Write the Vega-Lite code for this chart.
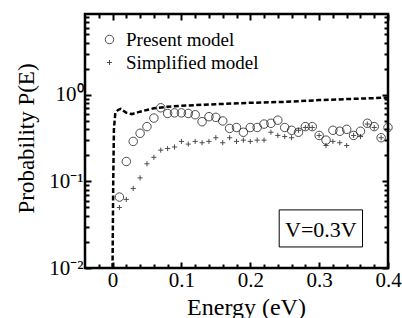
{
  "$schema": "https://vega.github.io/schema/vega-lite/v6.json",
  "width": 303,
  "height": 254,
  "autosize": {"type": "none"},
  "padding": {"left": 85, "top": 14, "right": 14, "bottom": 50},
  "background": "white",
  "config": {
    "view": {"stroke": "black", "strokeWidth": 2.5},
    "font": "Liberation Serif",
    "axis": {
      "domain": false, "ticks": true, "tickColor": "black", "tickWidth": 2,
      "labelColor": "black", "labelFont": "Liberation Serif", "labelFontSize": 21,
      "titleFont": "Liberation Serif", "titleColor": "black", "titleFontWeight": "normal",
      "grid": false, "labelFlush": false, "labelOverlap": false
    },
    "legend": {"labelFont": "Liberation Serif", "labelFontSize": 19, "labelColor": "black"}
  },
  "datasets": {
    "curve": [
      {"E": 0, "P": 0.01}, {"E": 0.001, "P": 0.1}, {"E": 0.002, "P": 0.4}, {"E": 0.004, "P": 0.62},
      {"E": 0.008, "P": 0.67}, {"E": 0.012, "P": 0.69}, {"E": 0.02, "P": 0.62}, {"E": 0.028, "P": 0.6},
      {"E": 0.04, "P": 0.64}, {"E": 0.06, "P": 0.7}, {"E": 0.08, "P": 0.73}, {"E": 0.1, "P": 0.75},
      {"E": 0.15, "P": 0.78}, {"E": 0.2, "P": 0.81}, {"E": 0.25, "P": 0.83}, {"E": 0.3, "P": 0.87},
      {"E": 0.35, "P": 0.9}, {"E": 0.4, "P": 0.93}
    ],
    "points": [
      {"E": 0.01, "P": 0.066, "model": "Present model"},
      {"E": 0.02, "P": 0.17, "model": "Present model"},
      {"E": 0.03, "P": 0.29, "model": "Present model"},
      {"E": 0.04, "P": 0.36, "model": "Present model"},
      {"E": 0.05, "P": 0.43, "model": "Present model"},
      {"E": 0.06, "P": 0.54, "model": "Present model"},
      {"E": 0.07, "P": 0.71, "model": "Present model"},
      {"E": 0.08, "P": 0.61, "model": "Present model"},
      {"E": 0.09, "P": 0.62, "model": "Present model"},
      {"E": 0.1, "P": 0.62, "model": "Present model"},
      {"E": 0.11, "P": 0.61, "model": "Present model"},
      {"E": 0.12, "P": 0.59, "model": "Present model"},
      {"E": 0.13, "P": 0.49, "model": "Present model"},
      {"E": 0.14, "P": 0.56, "model": "Present model"},
      {"E": 0.15, "P": 0.55, "model": "Present model"},
      {"E": 0.16, "P": 0.5, "model": "Present model"},
      {"E": 0.17, "P": 0.41, "model": "Present model"},
      {"E": 0.18, "P": 0.42, "model": "Present model"},
      {"E": 0.19, "P": 0.37, "model": "Present model"},
      {"E": 0.2, "P": 0.42, "model": "Present model"},
      {"E": 0.21, "P": 0.42, "model": "Present model"},
      {"E": 0.22, "P": 0.46, "model": "Present model"},
      {"E": 0.23, "P": 0.47, "model": "Present model"},
      {"E": 0.24, "P": 0.51, "model": "Present model"},
      {"E": 0.25, "P": 0.42, "model": "Present model"},
      {"E": 0.26, "P": 0.39, "model": "Present model"},
      {"E": 0.27, "P": 0.37, "model": "Present model"},
      {"E": 0.28, "P": 0.43, "model": "Present model"},
      {"E": 0.29, "P": 0.43, "model": "Present model"},
      {"E": 0.3, "P": 0.34, "model": "Present model"},
      {"E": 0.31, "P": 0.3, "model": "Present model"},
      {"E": 0.32, "P": 0.39, "model": "Present model"},
      {"E": 0.33, "P": 0.38, "model": "Present model"},
      {"E": 0.34, "P": 0.4, "model": "Present model"},
      {"E": 0.35, "P": 0.34, "model": "Present model"},
      {"E": 0.36, "P": 0.38, "model": "Present model"},
      {"E": 0.37, "P": 0.47, "model": "Present model"},
      {"E": 0.38, "P": 0.43, "model": "Present model"},
      {"E": 0.39, "P": 0.32, "model": "Present model"},
      {"E": 0.4, "P": 0.42, "model": "Present model"},
      {"E": 0.01, "P": 0.05, "model": "Simplified model"},
      {"E": 0.02, "P": 0.062, "model": "Simplified model"},
      {"E": 0.03, "P": 0.083, "model": "Simplified model"},
      {"E": 0.04, "P": 0.11, "model": "Simplified model"},
      {"E": 0.05, "P": 0.16, "model": "Simplified model"},
      {"E": 0.06, "P": 0.19, "model": "Simplified model"},
      {"E": 0.07, "P": 0.23, "model": "Simplified model"},
      {"E": 0.08, "P": 0.24, "model": "Simplified model"},
      {"E": 0.09, "P": 0.25, "model": "Simplified model"},
      {"E": 0.1, "P": 0.29, "model": "Simplified model"},
      {"E": 0.11, "P": 0.27, "model": "Simplified model"},
      {"E": 0.12, "P": 0.29, "model": "Simplified model"},
      {"E": 0.13, "P": 0.28, "model": "Simplified model"},
      {"E": 0.14, "P": 0.29, "model": "Simplified model"},
      {"E": 0.15, "P": 0.32, "model": "Simplified model"},
      {"E": 0.16, "P": 0.28, "model": "Simplified model"},
      {"E": 0.17, "P": 0.32, "model": "Simplified model"},
      {"E": 0.18, "P": 0.29, "model": "Simplified model"},
      {"E": 0.19, "P": 0.3, "model": "Simplified model"},
      {"E": 0.2, "P": 0.29, "model": "Simplified model"},
      {"E": 0.21, "P": 0.3, "model": "Simplified model"},
      {"E": 0.22, "P": 0.3, "model": "Simplified model"},
      {"E": 0.23, "P": 0.37, "model": "Simplified model"},
      {"E": 0.24, "P": 0.34, "model": "Simplified model"},
      {"E": 0.25, "P": 0.33, "model": "Simplified model"},
      {"E": 0.26, "P": 0.32, "model": "Simplified model"},
      {"E": 0.27, "P": 0.39, "model": "Simplified model"},
      {"E": 0.28, "P": 0.42, "model": "Simplified model"},
      {"E": 0.29, "P": 0.42, "model": "Simplified model"},
      {"E": 0.3, "P": 0.34, "model": "Simplified model"},
      {"E": 0.31, "P": 0.26, "model": "Simplified model"},
      {"E": 0.32, "P": 0.29, "model": "Simplified model"},
      {"E": 0.33, "P": 0.28, "model": "Simplified model"},
      {"E": 0.34, "P": 0.26, "model": "Simplified model"},
      {"E": 0.35, "P": 0.34, "model": "Simplified model"},
      {"E": 0.36, "P": 0.33, "model": "Simplified model"},
      {"E": 0.37, "P": 0.46, "model": "Simplified model"},
      {"E": 0.38, "P": 0.42, "model": "Simplified model"},
      {"E": 0.39, "P": 0.32, "model": "Simplified model"},
      {"E": 0.4, "P": 0.4, "model": "Simplified model"}
    ],
    "box": [{"x1": 0.242, "x2": 0.363, "y1": 0.0175, "y2": 0.0469, "xc": 0.3025, "yc": 0.0275, "label": "V=0.3V"}]
  },
  "resolve": {"axis": {"x": "independent", "y": "independent"}},
  "layer": [
    {
      "data": {"name": "curve"},
      "mark": {"type": "line", "stroke": "black", "strokeWidth": 2.5, "strokeDash": [5, 2.5]},
      "encoding": {
        "x": {"field": "E", "type": "quantitative",
          "scale": {"domain": [-0.04, 0.4], "nice": false, "zero": false},
          "axis": {"orient": "bottom", "values": [0, 0.1, 0.2, 0.3, 0.4], "format": ".1~f", "tickSize": -6, "labelPadding": 7,
            "title": "Energy (eV)", "titleFontSize": 24, "titleFontWeight": "normal", "titleX": 161, "titleY": 46, "titleBaseline": "alphabetic", "titleAlign": "center", "titleAngle": 0}},
        "y": {"field": "P", "type": "quantitative",
          "scale": {"type": "log", "domain": [0.01, 8.6], "nice": false},
          "axis": {"orient": "left", "values": [0.01, 0.1, 1], "tickSize": -6, "labelPadding": 8,
            "labelExpr": "datum.value > 0.5 ? '10⁰' : datum.value > 0.05 ? '10⁻¹' : '10⁻²'",
            "title": "Probability  P(E)", "titleFontSize": 23, "titleFontWeight": "normal", "titleX": -52, "titleY": 124, "titleAngle": -90, "titleBaseline": "alphabetic", "titleAlign": "center"}}
      }
    },
    {
      "data": {"name": "points"},
      "mark": {"type": "point", "filled": false, "size": 72, "strokeWidth": 1, "color": "black"},
      "encoding": {
        "x": {"field": "E", "type": "quantitative",
          "axis": {"orient": "bottom", "values": [-0.02, 0.02, 0.04, 0.06, 0.08, 0.12, 0.14, 0.16, 0.18, 0.22, 0.24, 0.26, 0.28, 0.32, 0.34, 0.36, 0.38], "labels": false, "tickSize": -4, "title": null}},
        "y": {"field": "P", "type": "quantitative",
          "axis": {"orient": "left", "values": [0.02, 0.03, 0.04, 0.05, 0.06, 0.07, 0.08, 0.09, 0.2, 0.3, 0.4, 0.5, 0.6, 0.7, 0.8, 0.9, 2, 3, 4, 5, 6, 7, 8], "labels": false, "tickSize": -4, "title": null}},
        "shape": {"field": "model", "type": "nominal",
          "scale": {"domain": ["Present model", "Simplified model"], "range": ["circle", "M-0.6,0H0.6M0,-0.6V0.6"]},
          "legend": {"title": null, "orient": "none", "legendX": 15, "legendY": 16, "padding": 0, "symbolSize": 72, "symbolStrokeWidth": 1, "symbolStrokeColor": "black", "symbolFillColor": "transparent", "labelOffset": 7, "rowPadding": 3, "labelFont": "Liberation Serif"}}
      }
    },
    {
      "data": {"name": "box"},
      "mark": {"type": "rect", "fill": "white", "stroke": "black", "strokeWidth": 1},
      "encoding": {
        "x": {"field": "x1", "type": "quantitative",
          "axis": {"orient": "top", "values": [0, 0.1, 0.2, 0.3, 0.4], "labels": false, "tickSize": -6, "title": null}},
        "x2": {"field": "x2"},
        "y": {"field": "y1", "type": "quantitative",
          "axis": {"orient": "right", "values": [0.01, 0.1, 1], "labels": false, "tickSize": -6, "title": null}},
        "y2": {"field": "y2"}
      }
    },
    {
      "data": {"name": "box"},
      "mark": {"type": "text", "font": "Liberation Serif", "fontSize": 22, "color": "black", "align": "center", "baseline": "middle"},
      "encoding": {
        "x": {"field": "xc", "type": "quantitative",
          "axis": {"orient": "top", "values": [-0.02, 0.02, 0.04, 0.06, 0.08, 0.12, 0.14, 0.16, 0.18, 0.22, 0.24, 0.26, 0.28, 0.32, 0.34, 0.36, 0.38], "labels": false, "tickSize": -4, "title": null}},
        "y": {"field": "yc", "type": "quantitative",
          "axis": {"orient": "right", "values": [0.02, 0.03, 0.04, 0.05, 0.06, 0.07, 0.08, 0.09, 0.2, 0.3, 0.4, 0.5, 0.6, 0.7, 0.8, 0.9, 2, 3, 4, 5, 6, 7, 8], "labels": false, "tickSize": -4, "title": null}},
        "text": {"field": "label"}
      }
    }
  ]
}
